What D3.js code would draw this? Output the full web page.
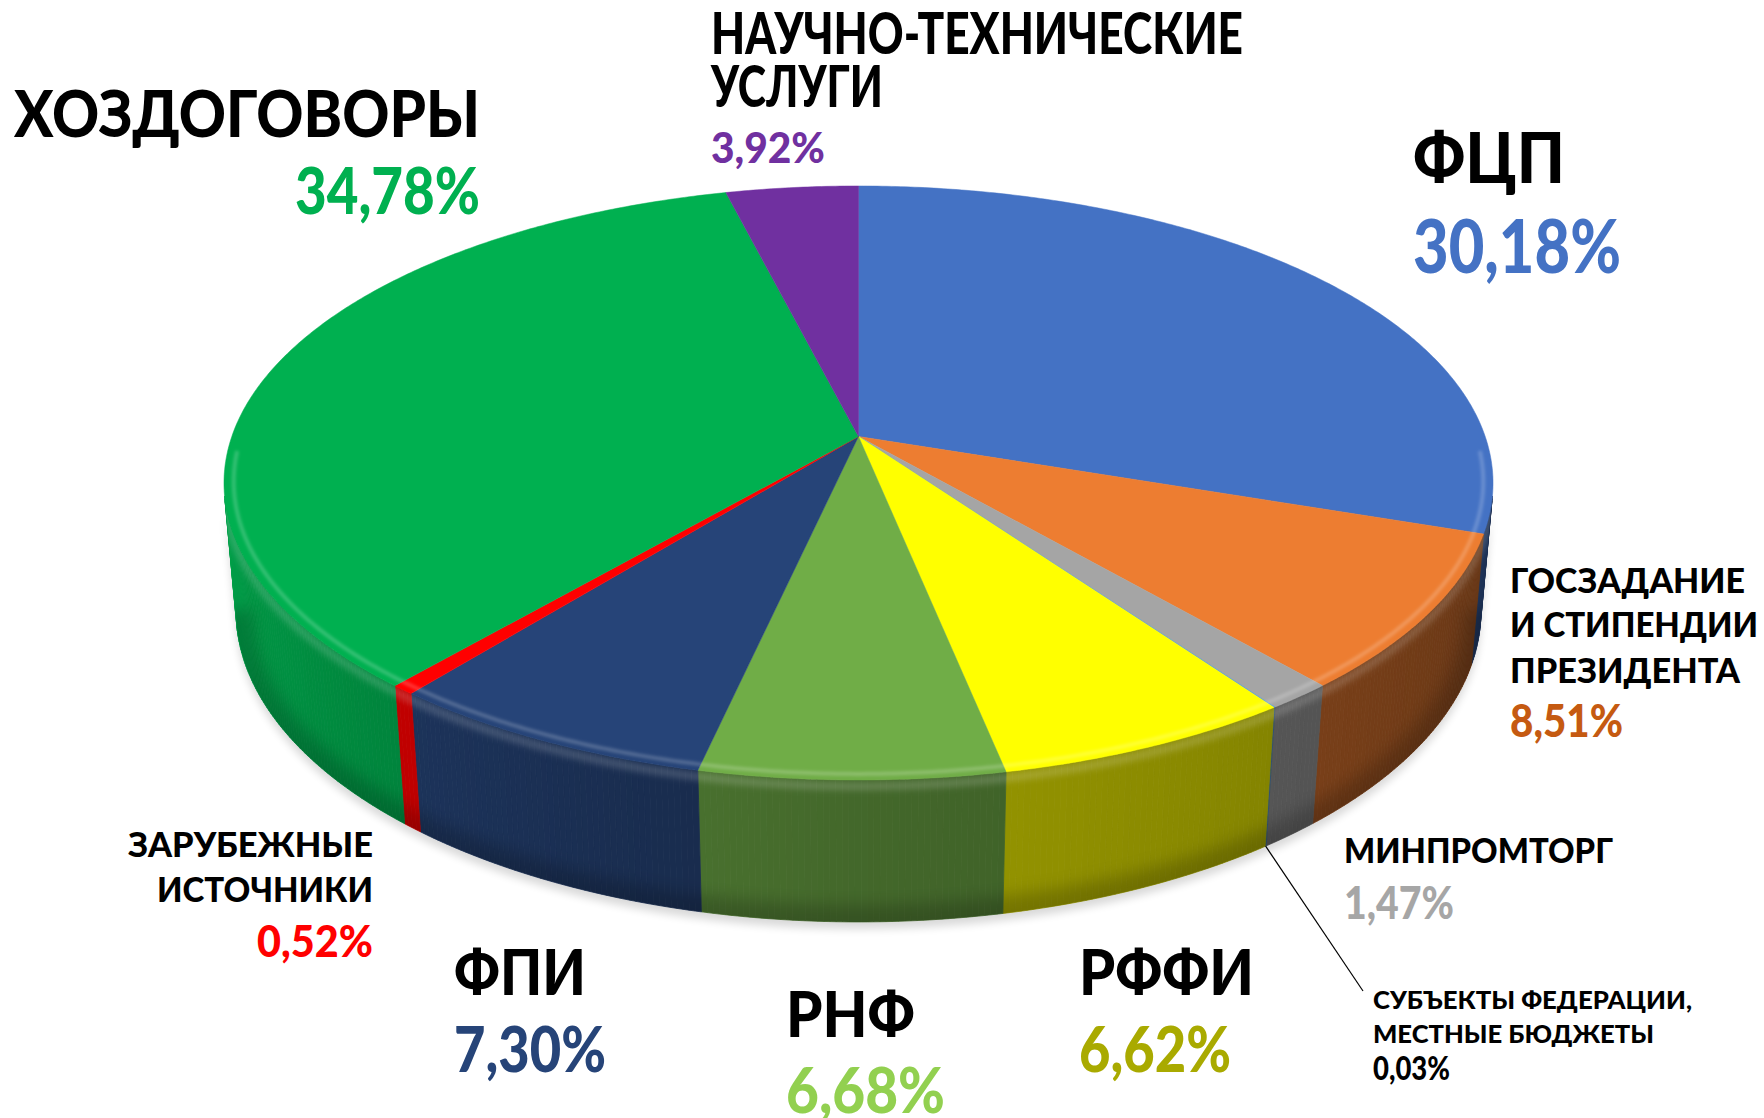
<!DOCTYPE html>
<html><head><meta charset="utf-8">
<script src="https://cdn.jsdelivr.net/npm/d3@7"></script>
<style>
body{margin:0;background:#fff}
svg{display:block}
text{font-family:Lato,"Open Sans","Noto Sans",sans-serif;font-weight:900}
</style>
</head><body>
<svg id="chart" width="1764" height="1118"></svg>
<script>
// ---------- data ----------
const categories = ["ФЦП","Госзадание и стипендии Президента","Минпромторг","Субъекты федерации, местные бюджеты","РФФИ","РНФ","ФПИ","Зарубежные источники","Хоздоговоры","Научно-технические услуги"];
const values = [30.18, 8.51, 1.47, 0.03, 6.62, 6.68, 7.30, 0.52, 34.78, 3.92];
const labelLines = [
  ["ФЦП"],
  ["ГОСЗАДАНИЕ","И СТИПЕНДИИ","ПРЕЗИДЕНТА"],
  ["МИНПРОМТОРГ"],
  ["СУБЪЕКТЫ ФЕДЕРАЦИИ,","МЕСТНЫЕ БЮДЖЕТЫ"],
  ["РФФИ"],
  ["РНФ"],
  ["ФПИ"],
  ["ЗАРУБЕЖНЫЕ","ИСТОЧНИКИ"],
  ["ХОЗДОГОВОРЫ"],
  ["НАУЧНО-ТЕХНИЧЕСКИЕ","УСЛУГИ"]
];

// ---------- styles ----------
const sliceColors = ["#4472C4","#ED7D31","#A5A5A5","#5B9BD5","#FFFF00","#70AD47","#264478","#FF0000","#00B050","#7030A0"];
const pctColors   = ["#4472C4","#C55A11","#A6A6A6","#000000","#A9AA00","#92D050","#264478","#FF0000","#00B050","#7030A0"];

// label layout (x, anchor, per-line baseline / size / width)
const labelLayout = [
  {x:1413, anchor:"start", lines:[[183,71,152]], pct:[273,75,208]},
  {x:1510, anchor:"start", lines:[[593,34,235],[637,34,248],[683,34,230]], pct:[737,45,113]},
  {x:1344, anchor:"start", lines:[[863,34,269]], pct:[919,45,110]},
  {x:1373, anchor:"start", lines:[[1009,25,319],[1043,25,281]], pct:[1080,32,77]},
  {x:1079, anchor:"start", lines:[[995,63,175]], pct:[1072,63,152]},
  {x:786,  anchor:"start", lines:[[1037,63,129]], pct:[1113,63,159]},
  {x:454,  anchor:"start", lines:[[995,63,132]], pct:[1072,63,152]},
  {x:373,  anchor:"end",   lines:[[857,34,245],[902,34,216]], pct:[957,44,116]},
  {x:480,  anchor:"end",   lines:[[137,64,466]], pct:[214,64,185]},
  {x:711,  anchor:"start", lines:[[54,57,532],[107,57,172]], pct:[163,42,114]}
];
const leaderEnd = [1363, 991];

// ---------- geometry ----------
const cx = 858.5, cy0 = 436.5, A = 626.7;
const sinT = 0.4623, cosT = Math.sqrt(1 - sinT*sinT);
const persp = 0.1765, thick = 0.232;
const xS = d3.scaleLinear().domain([-1,1]).range([cx - A, cx + A]);
const yS = d3.scaleLinear().domain([-1,1]).range([cy0 - A, cy0 + A]);
function proj(a, r, level){
  const x = r*Math.sin(a), z = -r*Math.cos(a), y = level;
  const dn = 1 - persp*(y*sinT + z*cosT);
  const u = y*cosT - z*sinT;
  return [xS(x/dn), yS(-u/dn)];
}
function arcPts(a0, a1, r, level){
  const n = Math.max(2, Math.ceil(Math.abs(a1 - a0)/(Math.PI/360)));
  return d3.range(n + 1).map(i => proj(a0 + (a1 - a0)*i/n, r, level));
}
const line = d3.line();
const arcs = d3.pie().sort(null).value(d => d)(values);
const aVis0 = Math.acos(-persp/cosT), aVis1 = 2*Math.PI - aVis0;
const light = d3.scaleLinear().domain([aVis0, Math.PI, aVis1]).range([0.42, 0.6, 0.9]).clamp(true);
function shade(c, f){ const r = d3.rgb(c); return d3.rgb(r.r*f, r.g*f, r.b*f).formatHex(); }

const svg = d3.select("#chart");
const defs = svg.append("defs");
[["blur8",8],["blur4",4],["blur3",3],["blur1",1.5]].forEach(([id,s]) => {
  defs.append("filter").attr("id", id).attr("x","-20%").attr("y","-20%").attr("width","140%").attr("height","140%")
    .append("feGaussianBlur").attr("stdDeviation", s);
});

// visible side band outline
const bandPts = arcPts(aVis0, aVis1, 1, 0).concat(arcPts(aVis1, aVis0, 1, -thick));
defs.append("clipPath").attr("id","bandClip").append("path").attr("d", line(bandPts) + "Z");

// drop shadow
svg.append("path").attr("d", line(bandPts) + "Z").attr("transform","translate(0,7)")
  .attr("fill","#000").attr("opacity",0.15).attr("filter","url(#blur4)");

// side strips
const gSide = svg.append("g");
arcs.forEach((d, i) => {
  const s0 = Math.max(d.startAngle, aVis0), s1 = Math.min(d.endAngle, aVis1);
  if (s1 <= s0) return;
  const n = Math.max(1, Math.ceil((s1 - s0)/(Math.PI/360)));
  for (let k = 0; k < n; k++){
    const t0 = s0 + (s1 - s0)*k/n, t1 = s0 + (s1 - s0)*(k + 1)/n;
    const col = shade(sliceColors[i], light((t0 + t1)/2));
    gSide.append("path")
      .attr("d", line([proj(t0,1,0), proj(t1,1,0), proj(t1,1,-thick), proj(t0,1,-thick)]) + "Z")
      .attr("fill", col).attr("stroke", col).attr("stroke-width", 0.8);
  }
});
// side overlays (bevel highlight at top, darkening at bottom)
const gOv = svg.append("g").attr("clip-path","url(#bandClip)");
gOv.append("path").attr("d", line(arcPts(aVis0 - 0.05, aVis1 + 0.05, 1, -thick)))
  .attr("fill","none").attr("stroke","#000").attr("stroke-opacity",0.2).attr("stroke-width",34).attr("filter","url(#blur8)");
gOv.append("path").attr("d", line(arcPts(aVis0 - 0.05, aVis1 + 0.05, 1, -0.01)))
  .attr("fill","none").attr("stroke","#fff").attr("stroke-opacity",0.18).attr("stroke-width",8).attr("filter","url(#blur3)");

// top faces
const gTop = svg.append("g");
arcs.forEach((d, i) => {
  const pts = [proj(0,0,0)].concat(arcPts(d.startAngle, d.endAngle, 1, 0));
  gTop.append("path").attr("d", line(pts) + "Z")
    .attr("fill", sliceColors[i]).attr("stroke", sliceColors[i]).attr("stroke-width", 0.5);
});
// top bevel highlight along front edge
svg.append("path").attr("d", line(arcPts(aVis0 - 0.15, aVis1 + 0.15, 0.985, 0)))
  .attr("fill","none").attr("stroke","#fff").attr("stroke-opacity",0.2).attr("stroke-width",4).attr("filter","url(#blur1)");

// leader line for the tiny slice
const tiny = arcs[3];
const ls = proj((tiny.startAngle + tiny.endAngle)/2, 1, -thick);
svg.append("line").attr("x1", ls[0]).attr("y1", ls[1]).attr("x2", leaderEnd[0]).attr("y2", leaderEnd[1])
  .attr("stroke","#000").attr("stroke-width",1.2);

// labels
const fmt = d3.formatLocale({decimal:",", thousands:" ", grouping:[3], currency:["",""]}).format(".2f");
const gLab = svg.append("g");
labelLayout.forEach((L, i) => {
  labelLines[i].forEach((t, j) => {
    const [y, fs, len] = L.lines[j];
    gLab.append("text").attr("x", L.x).attr("y", y).attr("text-anchor", L.anchor)
      .attr("font-size", fs).attr("fill", "#000")
      .attr("textLength", len).attr("lengthAdjust", "spacingAndGlyphs").text(t);
  });
  const [y, fs, len] = L.pct;
  gLab.append("text").attr("x", L.x).attr("y", y).attr("text-anchor", L.anchor)
    .attr("font-size", fs).attr("fill", pctColors[i])
    .attr("textLength", len).attr("lengthAdjust", "spacingAndGlyphs").text(fmt(values[i]) + "%");
});
</script>
</body></html>
